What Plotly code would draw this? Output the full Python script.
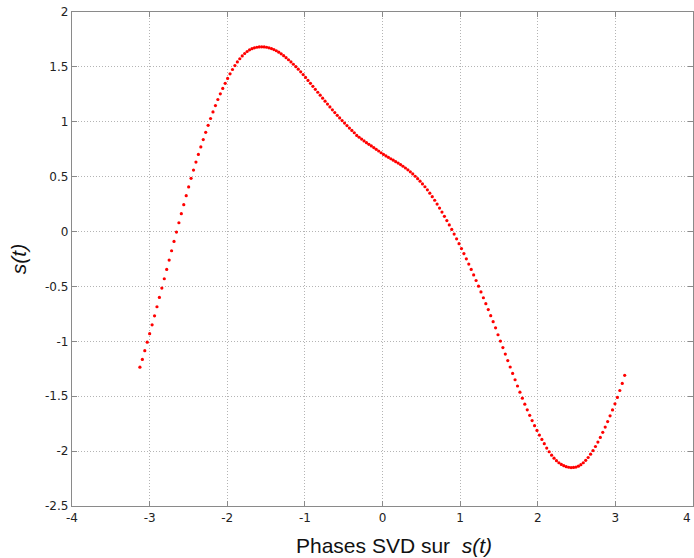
import numpy as np
import plotly.graph_objects as go

# Phase range of the samples (read from the first/last dot)
PHASE_START = -3.125
PHASE_END = 3.12

# s(t) values at each evenly spaced phase sample
s_values = [
    -1.235, -1.165, -1.085, -1.008, -0.930, -0.850, -0.768, -0.685, -0.600, -0.515,
    -0.430, -0.345, -0.260, -0.175, -0.090, -0.005, 0.080, 0.163, 0.245, 0.327,
    0.407, 0.485, 0.560, 0.633, 0.703, 0.771, 0.838, 0.904, 0.968, 1.030,
    1.090, 1.148, 1.203, 1.255, 1.304, 1.350, 1.395, 1.437, 1.476, 1.512,
    1.545, 1.574, 1.600, 1.622, 1.640, 1.655, 1.666, 1.674, 1.679, 1.682,
    1.683, 1.682, 1.679, 1.674, 1.667, 1.658, 1.647, 1.634, 1.619, 1.602,
    1.584, 1.565, 1.545, 1.524, 1.502, 1.479, 1.455, 1.430, 1.404, 1.377,
    1.350, 1.323, 1.296, 1.269, 1.242, 1.215, 1.188, 1.161, 1.135, 1.109,
    1.084, 1.059, 1.035, 1.011, 0.988, 0.965, 0.943, 0.921, 0.900, 0.876,
    0.859, 0.842, 0.826, 0.810, 0.795, 0.780, 0.765, 0.749, 0.734, 0.718,
    0.703, 0.689, 0.676, 0.663, 0.650, 0.637, 0.624, 0.610, 0.595, 0.579,
    0.562, 0.544, 0.525, 0.504, 0.482, 0.459, 0.434, 0.408, 0.380, 0.350,
    0.318, 0.285, 0.250, 0.214, 0.177, 0.139, 0.100, 0.060, 0.019, -0.023,
    -0.066, -0.110, -0.155, -0.201, -0.248, -0.296, -0.345, -0.395, -0.446, -0.498,
    -0.550, -0.603, -0.657, -0.711, -0.766, -0.821, -0.877, -0.940, -0.998, -1.057,
    -1.116, -1.175, -1.234, -1.292, -1.350, -1.407, -1.463, -1.518, -1.572, -1.624,
    -1.674, -1.722, -1.768, -1.812, -1.854, -1.894, -1.932, -1.972, -2.006, -2.037,
    -2.064, -2.087, -2.106, -2.121, -2.133, -2.142, -2.147, -2.150, -2.149, -2.145,
    -2.137, -2.124, -2.106, -2.084, -2.058, -2.028, -1.995, -1.958, -1.918, -1.875,
    -1.829, -1.781, -1.731, -1.679, -1.625, -1.569, -1.511, -1.448, -1.383, -1.310,
]

# Axis ticks
x_ticks = [-4, -3, -2, -1, 0, 1, 2, 3, 4]
x_tick_labels = ["-4", "-3", "-2", "-1", "0", "1", "2", "3", "4"]
y_ticks = [-2.5, -2, -1.5, -1, -0.5, 0, 0.5, 1, 1.5, 2]
y_tick_labels = ["-2.5", "-2", "-1.5", "-1", "-0.5", "0", "0.5", "1", "1.5", "2"]

x_title = "Phases SVD sur  <i>s(t)</i>"
y_title = "<i>s(t)</i>"

phases = np.linspace(PHASE_START, PHASE_END, len(s_values))

fig = go.Figure()
fig.add_trace(go.Scatter(
    x=phases, y=s_values, mode="markers",
    marker=dict(color="#ff0000", size=3.2, symbol="circle", line=dict(width=0)),
    showlegend=False,
))

tick_font = dict(family="DejaVu Sans, Liberation Sans, sans-serif", size=12, color="#222222")
axis_common = dict(
    showline=True, linecolor="#8a8a8a", linewidth=1.3, mirror="ticks",
    ticks="inside", ticklen=5, tickcolor="#8a8a8a", tickwidth=1.3,
    showgrid=True, gridcolor="#b4b4b4", griddash="1px,2px", gridwidth=1,
    zeroline=False, tickfont=tick_font,
)

title_font = dict(family="Liberation Sans, Arial, sans-serif", size=21, color="#111111")

fig.update_layout(
    width=694, height=558,
    margin=dict(l=72, r=0, t=12, b=52),
    paper_bgcolor="white", plot_bgcolor="white",
    xaxis=dict(range=[-4, 4], tickvals=x_ticks, ticktext=x_tick_labels, **axis_common),
    yaxis=dict(
        range=[-2.5, 2], tickvals=y_ticks, ticktext=y_tick_labels,
        title=dict(text=y_title, standoff=12, font=title_font),
        **axis_common,
    ),
)

# x-axis title (slightly right of centre, as in the original)
fig.add_annotation(
    text=x_title, xref="paper", yref="paper", x=0.518, y=-0.079,
    xanchor="center", yanchor="middle", showarrow=False, font=title_font,
)
# last x tick label, kept inside the window edge
fig.add_annotation(
    text=x_tick_labels[-1], xref="x", yref="paper", x=x_ticks[-1], y=-0.024,
    xanchor="right", yanchor="middle", showarrow=False, font=tick_font,
)

post = (
    "document.body.style.margin='0';"
    "document.body.style.overflow='hidden';"
    "Plotly.relayout('{plot_id}', {width: 694, height: 558});"
)

fig.write_html(
    "out.html",
    config={"responsive": False, "displayModeBar": False},
    post_script=post,
)
